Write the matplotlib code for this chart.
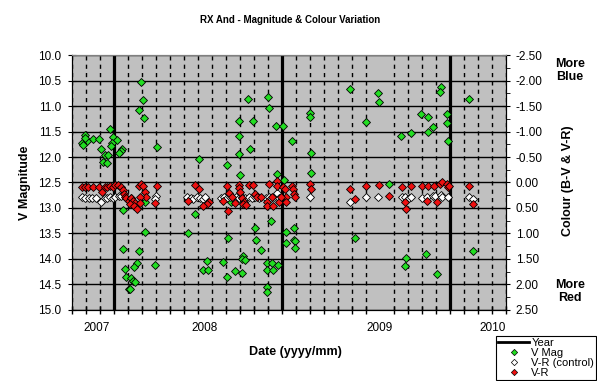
import matplotlib
matplotlib.use('Agg')
import matplotlib.pyplot as plt
from matplotlib.lines import Line2D
from matplotlib.ticker import MultipleLocator

plt.rcParams['font.family'] = ['Liberation Sans', 'DejaVu Sans']

# x values are months counted from the left edge of the chart
year_months = [3, 15, 27]
year_label_pos = [1.79, 9.5, 22.0, 30.07]
year_labels = ['2007', '2008', '2009', '2010']

# V magnitude
vmag_month = [0.91, 1.48, 1.91, 1.09, 0.71, 0.81, 0.95, 2.95, 3.19, 2.86, 2.76, 2.71,
              6.05, 2.05, 3.57, 3.48, 3.34, 2.38, 2.57, 2.19, 2.48, 4.91, 5.05, 4.76,
              5.14, 5.19, 3.62, 5.24, 3.66, 4.76, 5.91, 4.62, 4.43, 3.76, 3.86, 4.19,
              4.34, 4.52, 4.05, 4.14,
              14.00, 12.57, 14.05, 11.91, 12.91, 14.57, 15.05, 11.91, 12.71, 11.91,
              9.07, 11.07, 12.00, 14.62, 15.12, 8.76, 14.19, 13.09, 8.26, 15.29, 11.14,
              13.14, 15.29, 13.48, 9.62, 10.76, 12.24, 12.14, 12.34, 13.91, 14.29,
              14.71, 9.34, 9.71, 11.62, 12.14, 13.91, 14.34, 11.09, 13.91, 13.91, 11.36,
              19.86, 21.86, 21.93, 17.00, 17.00, 21.00, 15.71, 17.07, 17.07, 22.62,
              15.86, 15.86, 15.93, 15.93, 20.21,
              26.36, 26.26, 28.34, 24.95, 25.41, 26.76, 26.76, 25.81, 25.43, 24.19,
              23.52, 26.86, 28.62, 25.29, 23.86, 23.76, 26.07]
vmag = [11.57, 11.64, 11.64, 11.68, 11.72, 11.76, 11.63, 11.61, 11.67, 11.73, 11.78, 11.46,
        11.81, 11.85, 11.84, 11.88, 11.92, 11.96, 11.96, 12.09, 12.11, 10.52, 10.88, 11.08,
        11.23, 12.88, 13.03, 13.48, 13.81, 13.85, 14.11, 14.08, 14.16, 14.19, 14.36, 14.37,
        14.43, 14.46, 14.59, 14.58,
        10.82, 10.86, 11.03, 11.29, 11.29, 11.39, 11.39, 11.59, 11.84, 11.94,
        12.03, 12.16, 12.35, 12.33, 12.45, 13.11, 13.25, 13.39, 13.50, 13.48, 13.59,
        13.63, 13.68, 13.82, 14.03, 14.06, 13.95, 14.01, 14.02, 14.07, 14.07,
        14.11, 14.21, 14.21, 14.24, 14.27, 14.21, 14.21, 14.35, 14.55, 14.65, 12.88,
        10.67, 10.74, 10.92, 11.13, 11.21, 11.31, 11.68, 11.92, 12.31, 12.52,
        13.39, 13.62, 13.65, 13.78, 13.58,
        10.62, 10.72, 10.86, 11.16, 11.21, 11.15, 11.33, 11.41, 11.50, 11.52,
        11.58, 11.68, 13.84, 13.90, 13.99, 14.13, 14.29]

# V-R of the comparison star
vrc_month = [0.71, 0.91, 1.19, 1.43, 1.70, 2.05, 2.33, 2.52, 2.71, 2.90, 3.09, 3.33, 3.48,
             6.00, 5.93, 8.24, 8.48, 8.67, 8.95, 9.14, 9.33, 9.52, 10.67, 10.86, 11.05,
             11.29, 11.52, 11.71, 11.95, 12.14, 12.38, 12.62, 12.86, 13.09, 13.33, 13.86,
             14.05, 14.24, 14.43, 14.62, 14.76, 17.00, 19.86, 21.00, 21.88, 23.57, 23.76,
             24.05, 24.24, 25.00, 25.33, 25.76, 25.95, 26.33, 26.43, 26.86, 28.33, 28.62]
vrc = [0.28, 0.30, 0.31, 0.30, 0.31, 0.38, 0.31, 0.30, 0.29, 0.30, 0.28, 0.27, 0.26,
       0.26, 0.33, 0.28, 0.30, 0.32, 0.28, 0.30, 0.32, 0.29, 0.30, 0.28, 0.30,
       0.29, 0.30, 0.28, 0.30, 0.29, 0.30, 0.28, 0.30, 0.29, 0.30, 0.30,
       0.28, 0.30, 0.29, 0.21, 0.30, 0.28, 0.38, 0.29, 0.28, 0.29, 0.28,
       0.31, 0.29, 0.30, 0.28, 0.27, 0.26, 0.24, 0.29, 0.29, 0.28, 0.33]

# V-R of RX And
vr_month = [0.71, 0.91, 1.14, 1.52, 1.95, 2.14, 2.33, 2.52, 2.71, 2.90, 3.09, 3.29, 3.48,
            3.66, 3.71, 3.79, 3.86, 4.05, 4.19, 4.24, 4.33, 4.38, 4.52, 4.14, 4.43, 4.62,
            4.76, 4.91, 5.09, 5.24, 5.29, 6.05, 5.95, 4.86, 4.86,
            8.81, 9.10, 8.29, 9.76, 9.62, 9.38, 11.10, 11.19, 10.81, 11.43, 11.17, 11.95,
            11.95, 12.00, 11.67, 12.14, 12.29, 12.19, 12.43, 12.62, 12.95, 13.09, 13.24,
            13.52, 14.10, 13.95, 13.95, 14.29, 14.38, 14.67, 14.62, 14.76, 15.09, 15.24,
            15.29, 15.29, 14.95, 15.71, 15.81, 15.86, 15.95,
            17.00, 17.09, 19.86, 20.24, 21.00, 21.91, 22.67, 23.57, 24.24, 23.81, 23.86,
            25.00, 25.43, 25.86, 25.33, 26.09, 26.29, 26.41, 26.76, 26.86, 26.95, 28.38, 28.67]
vr = [0.08, 0.09, 0.09, 0.08, 0.09, 0.18, 0.09, 0.08, 0.07, 0.08, 0.05, 0.05, 0.09,
      0.15, 0.23, 0.28, 0.31, 0.36, 0.31, 0.31, 0.40, 0.36, 0.41, 0.42, 0.47, 0.52,
      0.07, 0.03, 0.07, 0.18, 0.28, 0.07, 0.40, 0.28, 0.41,
      0.05, 0.13, 0.36, 0.38, 0.42, 0.47, 0.07, 0.20, 0.36, 0.28, 0.55, 0.05,
      0.11, 0.18, 0.41, 0.31, 0.38, 0.42, 0.45, 0.05, 0.05, 0.23, 0.28,
      0.29, 0.03, 0.38, 0.46, 0.28, 0.47, -0.02, 0.07, 0.38, 0.08, 0.13,
      0.29, 0.38, 0.28, 0.07, 0.12, 0.23, 0.28,
      0.02, 0.12, 0.13, 0.33, 0.06, 0.04, 0.26, 0.09, 0.07, 0.38, 0.51,
      0.07, 0.07, 0.07, 0.37, 0.38, 0.02, -0.01, 0.02, 0.09, 0.07, 0.06, 0.42]

GREEN = '#22dd22'
RED = '#ee1111'

fig = plt.figure(figsize=(5.97, 3.81), dpi=100)
ax = fig.add_axes([0.1206, 0.1864, 0.7270, 0.6692])
ax.set_facecolor('#c0c0c0')

ax.set_xlim(0, 31)
ax.set_ylim(15, 10)

# grid
ax.yaxis.set_major_locator(MultipleLocator(0.5))
ax.yaxis.set_major_formatter(plt.FormatStrFormatter('%.1f'))
ax.grid(True, axis='y', which='major', color='black', lw=1)
ax.set_xticks(range(0, 32), minor=True)
ax.set_xticks(year_label_pos, labels=year_labels)
ax.grid(True, axis='x', which='minor', color='black', lw=1, linestyle=(0, (3, 3)))
ax.set_axisbelow(True)

for ym in year_months:
    ax.axvline(ym, color='black', lw=2.3, zorder=1.5)

ax.plot(vmag_month, vmag, 'D', ms=3.9, mfc=GREEN, mec='black', mew=0.6, zorder=3)

ax.tick_params(axis='x', which='major', length=0, pad=9, labelsize=8.5)
ax.tick_params(axis='x', which='minor', direction='inout', length=6, width=1)
ax.tick_params(axis='y', which='major', direction='inout', length=6, pad=5, labelsize=8.5)

for s in ['left', 'bottom']:
    ax.spines[s].set_color('black')
ax.spines['top'].set_color('#808080')
ax.spines['right'].set_color('black')

ax2 = ax.twinx()
ax2.set_ylim(2.5, -2.5)
ax2.yaxis.set_major_locator(MultipleLocator(0.5))
ax2.yaxis.set_minor_locator(MultipleLocator(0.25))
ax2.yaxis.set_major_formatter(plt.FormatStrFormatter('%.2f'))
ax2.tick_params(axis='y', which='major', direction='inout', length=6, pad=4, labelsize=8.5)
ax2.tick_params(axis='y', which='minor', direction='out', length=3)
ax2.spines['top'].set_color('#808080')
ax2.plot(vrc_month, vrc, 'D', ms=3.9, mfc='white', mec='black', mew=0.6, zorder=3)
ax2.plot(vr_month, vr, 'D', ms=4.1, mfc=RED, mec='black', mew=0.6, zorder=4)

fig.text(0.486, 0.947, 'RX And - Magnitude & Colour Variation', ha='center', va='center',
         fontsize=7, fontweight='bold')
fig.text(0.042, 0.52, 'V Magnitude', rotation=90, ha='center', va='center',
         fontsize=9, fontweight='bold')
fig.text(0.495, 0.077, 'Date (yyyy/mm)', ha='center', va='center',
         fontsize=9, fontweight='bold')
fig.text(0.952, 0.525, 'Colour (B-V & V-R)', rotation=90, ha='center', va='center',
         fontsize=9, fontweight='bold')
fig.text(0.955, 0.815, 'More\nBlue', ha='center', va='center', fontsize=9,
         fontweight='bold', linespacing=1.1)
fig.text(0.955, 0.235, 'More\nRed', ha='center', va='center', fontsize=9,
         fontweight='bold', linespacing=1.1)

handles = [
    Line2D([], [], color='black', lw=2),
    Line2D([], [], ls='none', marker='D', ms=3.2, mfc=GREEN, mec='black', mew=0.5),
    Line2D([], [], ls='none', marker='D', ms=3.2, mfc='white', mec='black', mew=0.5),
    Line2D([], [], ls='none', marker='D', ms=3.2, mfc=RED, mec='black', mew=0.5),
]
leg = fig.legend(handles, ['Year', 'V Mag', 'V-R (control)', 'V-R'],
                 loc='lower right', bbox_to_anchor=(0.999, 0.002), fontsize=8,
                 frameon=True, fancybox=False, edgecolor='black', framealpha=1,
                 borderpad=0.2, labelspacing=0.0, handlelength=2.8,
                 handletextpad=0.2, borderaxespad=0)
leg.get_frame().set_linewidth(0.8)

fig.savefig('out.png', dpi=100)
